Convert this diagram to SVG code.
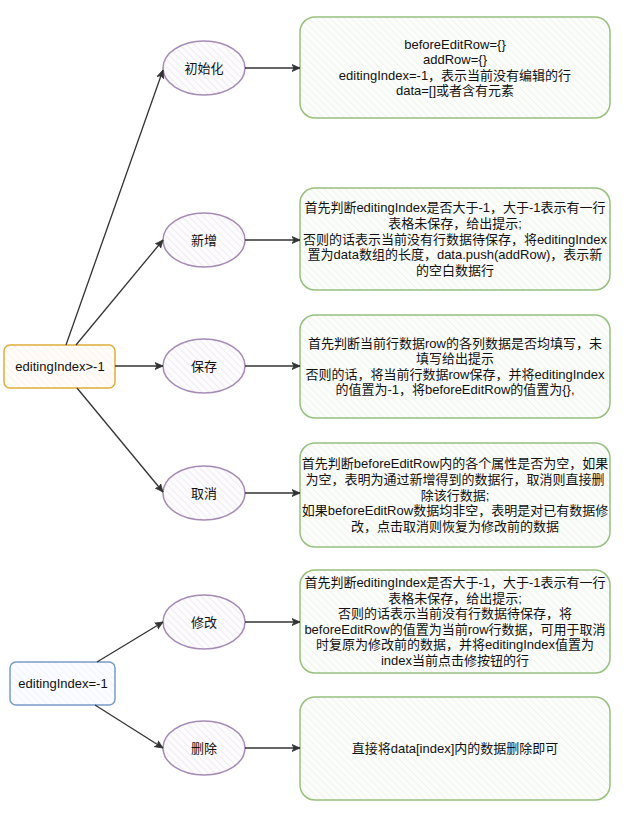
<svg xmlns="http://www.w3.org/2000/svg" width="628" height="828" viewBox="0 0 628 828">
<defs>
<pattern id="hg" width="5" height="5" patternUnits="userSpaceOnUse" patternTransform="rotate(-45)"><rect width="5" height="5" fill="#fcfdfb"/><line x1="0" y1="0" x2="0" y2="5" stroke="#e3efe2" stroke-width="1.1"/></pattern>
<pattern id="ho" width="5" height="5" patternUnits="userSpaceOnUse" patternTransform="rotate(-45)"><rect width="5" height="5" fill="#fffcf9"/><line x1="0" y1="0" x2="0" y2="5" stroke="#ffeedd" stroke-width="1.1"/></pattern>
<pattern id="hb" width="5" height="5" patternUnits="userSpaceOnUse" patternTransform="rotate(-45)"><rect width="5" height="5" fill="#fbfcff"/><line x1="0" y1="0" x2="0" y2="5" stroke="#e5eefc" stroke-width="1.1"/></pattern>
<pattern id="hp" width="5" height="5" patternUnits="userSpaceOnUse" patternTransform="rotate(-45)"><rect width="5" height="5" fill="#fcfbfd"/><line x1="0" y1="0" x2="0" y2="5" stroke="#e9e0ee" stroke-width="1.1"/></pattern>
<marker id="arr" markerWidth="10" markerHeight="10" refX="8" refY="4" orient="auto" markerUnits="userSpaceOnUse"><path d="M0,0.5 L8,4 L0,7.5 L2,4 Z" fill="#333" stroke="#333" stroke-width="0.8"/></marker>
</defs>
<style>
text{font-family:"Liberation Sans","Noto Sans CJK SC",sans-serif;font-size:13px;fill:#111;text-anchor:middle}
.box{fill:url(#hg);stroke:#97c07f;stroke-width:1.5}
.ell{fill:url(#hp);stroke:#a58bb6;stroke-width:1.5}
.conn line{stroke:#333;stroke-width:1.3;fill:none;marker-end:url(#arr)}
</style>
<g id="n-orange"><rect x="4" y="345" width="111" height="43" rx="6" fill="url(#ho)" stroke="#e0ad3a" stroke-width="1.5"/><text x="60" y="371">editingIndex&gt;-1</text></g>
<g id="n-blue"><rect x="10" y="662" width="105" height="43" rx="6" fill="url(#hb)" stroke="#7a9cca" stroke-width="1.5"/><text x="63" y="688">editingIndex=-1</text></g>
<g id="e-init"><ellipse class="ell" cx="204" cy="68" rx="41" ry="27"/><text x="204" y="73">初始化</text></g>
<g id="e-add"><ellipse class="ell" cx="204" cy="240" rx="41" ry="27"/><text x="204" y="245">新增</text></g>
<g id="e-save"><ellipse class="ell" cx="204" cy="366" rx="41" ry="27"/><text x="204" y="371">保存</text></g>
<g id="e-cancel"><ellipse class="ell" cx="204" cy="493" rx="41" ry="27"/><text x="204" y="498">取消</text></g>
<g id="e-edit"><ellipse class="ell" cx="204" cy="622" rx="41" ry="27"/><text x="204" y="627">修改</text></g>
<g id="e-del"><ellipse class="ell" cx="204" cy="748" rx="41" ry="27"/><text x="204" y="753">删除</text></g>
<g id="b-init"><rect class="box" x="300" y="17" width="310" height="101" rx="15"/>
<text x="455" y="48.6">beforeEditRow={}</text><text x="455" y="64.2">addRow={}</text><text x="455" y="79.8">editingIndex=-1，表示当前没有编辑的行</text><text x="455" y="95.4">data=[]或者含有元素</text></g>
<g id="b-add"><rect class="box" x="300" y="188" width="310" height="102" rx="15"/>
<text x="455" y="212.3">首先判断editingIndex是否大于-1，大于-1表示有一行</text><text x="455" y="227.9">表格未保存，给出提示;</text><text x="455" y="243.5">否则的话表示当前没有行数据待保存，将editingIndex</text><text x="455" y="259.1">置为data数组的长度，data.push(addRow)，表示新</text><text x="455" y="274.7">的空白数据行</text></g>
<g id="b-save"><rect class="box" x="300" y="315" width="310" height="103" rx="15"/>
<text x="455" y="347.6">首先判断当前行数据row的各列数据是否均填写，未</text><text x="455" y="363.2">填写给出提示</text><text x="455" y="378.8">否则的话，将当前行数据row保存，并将editingIndex</text><text x="455" y="394.4">的值置为-1，将beforeEditRow的值置为{},</text></g>
<g id="b-cancel"><rect class="box" x="300" y="443" width="310" height="104" rx="15"/>
<text x="455" y="468.3">首先判断beforeEditRow内的各个属性是否为空，如果</text><text x="455" y="483.9">为空，表明为通过新增得到的数据行，取消则直接删</text><text x="455" y="499.5">除该行数据;</text><text x="455" y="515.1">如果beforeEditRow数据均非空，表明是对已有数据修</text><text x="455" y="530.7">改，点击取消则恢复为修改前的数据</text></g>
<g id="b-edit"><rect class="box" x="300" y="570" width="310" height="103" rx="15"/>
<text x="455" y="587">首先判断editingIndex是否大于-1，大于-1表示有一行</text><text x="455" y="602.6">表格未保存，给出提示;</text><text x="455" y="618.2">否则的话表示当前没有行数据待保存，将</text><text x="455" y="633.8">beforeEditRow的值置为当前row行数据，可用于取消</text><text x="455" y="649.4">时复原为修改前的数据，并将editingIndex值置为</text><text x="455" y="665">index当前点击修按钮的行</text></g>
<g id="b-del"><rect class="box" x="300" y="697" width="310" height="103" rx="15"/>
<text x="455" y="753">直接将data[index]内的数据删除即可</text></g>
<g id="connectors" class="conn">
<line x1="66" y1="345" x2="163" y2="70"/>
<line x1="76" y1="345" x2="163" y2="240"/>
<line x1="115" y1="366" x2="163" y2="366"/>
<line x1="77" y1="388" x2="163" y2="492"/>
<line x1="97" y1="662" x2="163" y2="622"/>
<line x1="95" y1="705" x2="163" y2="748"/>
<line x1="245" y1="68" x2="300" y2="68"/>
<line x1="245" y1="240" x2="300" y2="240"/>
<line x1="245" y1="366" x2="300" y2="366"/>
<line x1="245" y1="493" x2="300" y2="493"/>
<line x1="245" y1="622" x2="300" y2="622"/>
<line x1="245" y1="748" x2="300" y2="748"/>
</g>
</svg>
